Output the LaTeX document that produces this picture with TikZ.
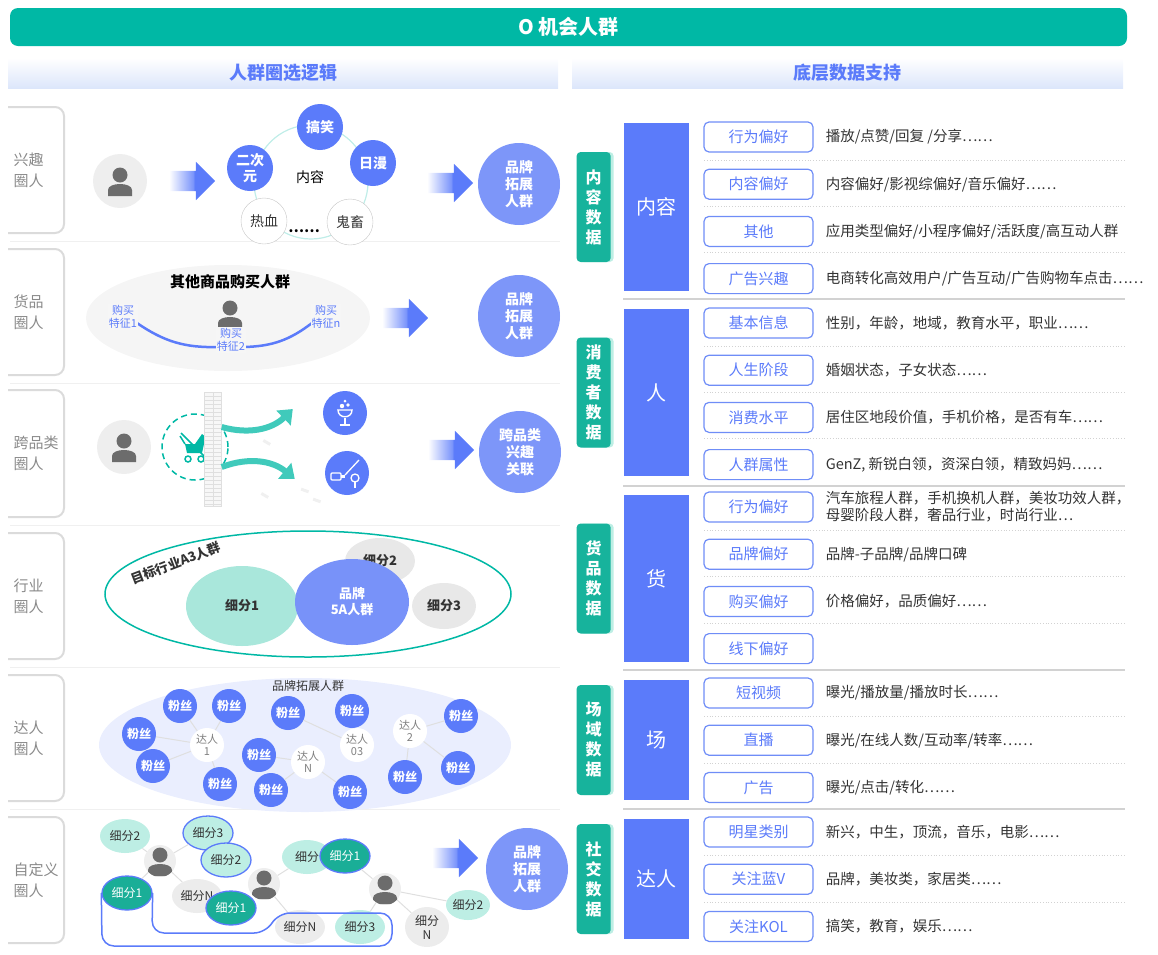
\documentclass[tikz,border=0pt]{standalone}
\usepackage{fontspec}
\setmainfont{Noto Sans CJK SC}
\usetikzlibrary{shapes.geometric, shapes.arrows, arrows.meta, positioning, shadows}

\definecolor{mainteal}{HTML}{00B8A5}
\definecolor{tagteal}{HTML}{17B39C}
\definecolor{paleteal}{HTML}{BDEEE4}
\definecolor{midteal}{HTML}{A9E7DB}
\definecolor{darkteal}{HTML}{1AAE97}
\definecolor{mainblue}{HTML}{5B7BFA}
\definecolor{softblue}{HTML}{7D96F9}
\definecolor{lineblue}{HTML}{6F8DF7}
\definecolor{bandblue}{HTML}{DCE6FB}
\definecolor{txtgray}{HTML}{8A8A8A}
\definecolor{darktxt}{HTML}{333333}

\pgfdeclarehorizontalshading{arrowfade}{100bp}{color(0bp)=(white); color(25bp)=(white); color(51bp)=(mainblue!80); color(53bp)=(mainblue); color(100bp)=(mainblue)}

\newcommand{\cdotsx}{⋯⋯}

\begin{document}
\begin{tikzpicture}[
    x=1pt, y=-1pt,
    font=\fontsize{14}{17}\selectfont,
    titlebar/.style={rectangle, rounded corners=8pt, fill=mainteal, text=white, minimum width=1117pt, minimum height=38pt, font=\fontsize{20}{24}\selectfont\bfseries},
    headband/.style={rectangle, top color=white, bottom color=bandblue, minimum height=30pt, text=mainblue, font=\fontsize{18}{22}\selectfont\bfseries},
    rowlab/.style={anchor=west, text=txtgray, align=left, font=\fontsize{15}{21}\selectfont},
    labframe/.style={draw=gray!28, line width=2pt, rounded corners=9pt},
    rowsep/.style={draw=gray!12, line width=1pt},
    person/.style={circle, inner sep=0pt, minimum size=#1pt, fill=gray!13,
        path picture={
            \begin{scope}[shift={(path picture bounding box.center)}, scale=#1/54]
                \fill[gray!85!black] (0pt,6pt) circle (7.5pt);
                \fill[gray!85!black] (-12pt,-15pt) -- (-12pt,-9pt) .. controls (-12pt,-1pt) and (12pt,-1pt) .. (12pt,-9pt) -- (12pt,-15pt) -- cycle;
            \end{scope}}},
    fatarrow/.style={single arrow, shade, shading=arrowfade, minimum height=46pt, minimum width=38pt, text height=10pt, text depth=10pt, single arrow head extend=9pt, inner sep=0pt},
    bubble/.style={circle, fill=mainblue, text=white, minimum size=46pt, inner sep=0pt, align=center, font=\fontsize{14}{16}\selectfont\bfseries},
    hollow/.style={circle, draw=gray!45, fill=white, minimum size=46pt, inner sep=0pt, text=darktxt, font=\fontsize{14}{16}\selectfont},
    result/.style={circle, fill=softblue, text=white, minimum size=82pt, inner sep=0pt, align=center, font=\fontsize{14}{17}\selectfont\bfseries},
    buytxt/.style={fill=gray!7, text=mainblue, align=center, inner sep=1pt, font=\fontsize{11}{13}\selectfont},
    buyline/.style={draw=mainblue, line width=2.5pt},
    iconc/.style={circle, fill=mainblue, minimum size=44pt, inner sep=0pt},
    tealarrow/.style={draw=mainteal!75, line width=6pt, -{Triangle[length=13pt, width=20pt]}},
    seg/.style={ellipse, inner sep=0pt, text=darktxt, align=center, font=\fontsize{13}{16}\selectfont\bfseries},
    fan/.style={circle, fill=mainblue, text=white, minimum size=34pt, inner sep=0pt, font=\fontsize{12}{14}\selectfont\bfseries},
    kol/.style={circle, fill=white, text=gray, minimum size=34pt, inner sep=0pt, align=center, font=\fontsize{11}{12}\selectfont},
    link/.style={draw=gray!25, line width=1pt},
    chip/.style={ellipse, minimum width=50pt, minimum height=34pt, inner sep=0pt, align=center, text=darktxt, font=\fontsize{12}{14}\selectfont},
    grpline/.style={draw=mainblue, line width=1.5pt},
    tag/.style={rectangle, rounded corners=4pt, fill=tagteal, text=white, minimum width=34pt, minimum height=110pt, align=center, font=\fontsize{16}{20}\selectfont\bfseries, drop shadow={shadow xshift=3pt, shadow yshift=0pt, fill=paleteal, opacity=1}},
    block/.style={rectangle, fill=mainblue, text=white, minimum width=65pt, font=\fontsize{20}{24}\selectfont},
    sub/.style={rectangle, rounded corners=5pt, draw=lineblue, line width=1.2pt, fill=white, minimum width=109pt, minimum height=30pt, text=mainblue, font=\fontsize{15}{18}\selectfont},
    desc/.style={anchor=west, text=darktxt, align=left, inner sep=0pt, font=\fontsize{14.5}{17}\selectfont},
    dotsep/.style={draw=gray!35, dotted, line width=0.8pt},
    groupsep/.style={draw=gray!35, line width=1.5pt}
]
\useasboundingbox (0,0) rectangle (1158,954);

% title and column heads
\node[titlebar] (title) at (568.5,27) {O 机会人群};
\node[headband, minimum width=550pt] (headl) at (283,73) {人群圈选逻辑};
\node[headband, minimum width=551pt] (headr) at (847.5,73) {底层数据支持};

% row frames on the left
\draw[labframe] (8,107) -- (64,107) -- (64,233) -- (8,233);
\draw[labframe] (8,249) -- (64,249) -- (64,375) -- (8,375);
\draw[labframe] (8,390) -- (64,390) -- (64,517) -- (8,517);
\draw[labframe] (8,533) -- (64,533) -- (64,659) -- (8,659);
\draw[labframe] (8,675) -- (64,675) -- (64,801) -- (8,801);
\draw[labframe] (8,817) -- (64,817) -- (64,943) -- (8,943);
\draw[rowsep] (10,241) -- (560,241);
\draw[rowsep] (10,383) -- (560,383);
\draw[rowsep] (10,525) -- (560,525);
\draw[rowsep] (10,667) -- (560,667);
\draw[rowsep] (10,809) -- (560,809);

\node[rowlab] (lab1) at (10,170) {兴趣\\圈人};
\node[rowlab] (lab2) at (10,312) {货品\\圈人};
\node[rowlab] (lab3) at (10,453) {跨品类\\圈人};
\node[rowlab] (lab4) at (10,596) {行业\\圈人};
\node[rowlab] (lab5) at (10,738) {达人\\圈人};
\node[rowlab] (lab6) at (10,880) {自定义\\圈人};

% interest crowd
\node[person=54] (u1) at (120,181) {};
\node[fatarrow] (ar1) at (187,181) {};
\draw[draw=mainteal!25, line width=1.2pt] (311,182) circle (57pt);
\node[bubble] (gx) at (320,127) {搞笑};
\node[bubble] (ecy) at (250,168) {二次\\元};
\node[bubble] (rm) at (373,163) {日漫};
\node[hollow] (rx) at (264,221) {热血};
\node[hollow] (gc) at (350,222) {鬼畜};
\node (nr) at (310,177) {内容};
\node[font=\fontsize{14}{17}\selectfont\bfseries] (more) at (304,231) {……};
\node[fatarrow] (ar2) at (445,183) {};
\node[result] (res1) at (519,184) {品牌\\拓展\\人群};

% goods crowd
\node[ellipse, fill=gray!8, minimum width=284pt, minimum height=106pt] (pool) at (228,318) {};
\node[font=\fontsize{15}{18}\selectfont\bfseries] (pooltxt) at (230,282) {其他商品购买人群};
\node[person=54, fill=none] (u2) at (230,314) {};
\draw[buyline] (137,323) to[bend right=18] (218,347);
\draw[buyline] (244,347) to[bend right=18] (312,323);
\node[buytxt] (f1) at (123,317) {购买\\特征1};
\node[buytxt] (f2) at (231,340) {购买\\特征2};
\node[buytxt] (fn) at (326,317) {购买\\特征n};
\node[fatarrow] (ar3) at (400,318) {};
\node[result] (res2) at (519,316) {品牌\\拓展\\人群};

% cross-category crowd
\node[person=54] (u3) at (124,447) {};
\node[circle, draw=mainteal, dashed, dash pattern=on 6pt off 4pt, line width=1.5pt, minimum size=66pt] (cart) at (195,447) {};
\begin{scope}[shift={(cart.center)}, mainteal]
    \fill (-10,-3) -- (9,-3) -- (7,6) -- (-8,6) -- cycle;
    \fill (0,-3) -- (7,-13) .. controls (13,-10) and (12,-5) .. (9,-3) -- cycle;
    \draw[line width=1.5pt] (-10,-3) -- (-15,-11);
    \draw[line width=1.5pt] (-7,12) circle (3pt) (6,12) circle (3pt);
    \draw[line width=1.5pt] (-14,-14) -- (12,12);
\end{scope}
\node[rectangle, fill=gray!6, draw=gray!25, minimum width=17pt, minimum height=114pt, inner sep=0pt,
    path picture={\foreach \k in {4,8,...,112} \draw[gray!25] ([yshift=-\k pt]path picture bounding box.north west) -- ++(17pt,0pt);
                  \draw[gray!25] (path picture bounding box.north) -- (path picture bounding box.south);}] (wall) at (213,449) {};
\fill[gray!12, rotate around={-30:(267,442)}] (263,441) rectangle (271,444);
\fill[gray!12, rotate around={-30:(265,495)}] (261,494) rectangle (269,497);
\fill[gray!12, rotate around={-20:(305,490)}] (301,489) rectangle (309,492);
\fill[gray!12, rotate around={-20:(317,500)}] (313,499) rectangle (321,502);
\node[iconc] (ic1) at (345,413) {};
\node[iconc] (ic2) at (347,473) {};
\draw[tealarrow] ([yshift=22pt]wall.east) to[bend right=30] ([xshift=-30pt,yshift=4pt]ic1.west);
\draw[tealarrow] ([yshift=-18pt]wall.east) to[bend left=30] ([xshift=-30pt,yshift=-6pt]ic2.west);
\begin{scope}[shift={(ic1.center)}, white, line width=1.4pt]
    \draw (-7,-3) .. controls (-7,6) and (7,6) .. (7,-3) -- cycle;
    \draw (0,5) -- (0,12) (-5,12) -- (5,12);
    \fill (-3,-7) circle (2.2pt) (3,-8) circle (1.8pt) (0,-12) circle (1.5pt);
\end{scope}
\begin{scope}[shift={(ic2.center)}, white, line width=1.3pt]
    \draw[rounded corners=1pt] (-16,0) rectangle (-6,7);
    \fill (-6,2) rectangle (-2,5);
    \draw (-2,2) -- (12,-13);
    \draw (8,5) circle (4pt);
    \draw (8,9) -- (8,15);
\end{scope}
\node[fatarrow] (ar4) at (446,450) {};
\node[result] (res3) at (520,452) {跨品类\\兴趣\\关联};

% industry crowd
\node[ellipse, draw=mainteal, line width=1.5pt, minimum width=406pt, minimum height=126pt] (a3pool) at (308,594) {};
\node[seg, fill=gray!18, minimum width=70pt, minimum height=46pt] (sg2) at (380,561) {细分2};
\node[seg, fill=gray!18, minimum width=64pt, minimum height=46pt] (sg3) at (444,606) {细分3};
\node[seg, fill=midteal, minimum width=112pt, minimum height=80pt] (sg1) at (242,606) {细分1};
\node[seg, fill=softblue!85!mainblue, text=white, minimum width=114pt, minimum height=86pt] (b5a) at (352,602) {品牌\\5A人群};
\node[rotate=21, inner sep=0pt, font=\fontsize{13}{16}\selectfont\bfseries, text=darktxt] (a3txt) at (176,563) {目标行业A3人群};

% influencer crowd
\node[ellipse, fill=mainblue!13, minimum width=412pt, minimum height=134pt] (fanpool) at (305,745) {};
\node[font=\fontsize{12}{14}\selectfont, text=darktxt] (fantxt) at (308,686) {品牌拓展人群};
\node[fan] (fa1) at (180,706) {粉丝};
\node[fan] (fa2) at (229,706) {粉丝};
\node[fan] (fa3) at (288,713) {粉丝};
\node[fan] (fa4) at (352,711) {粉丝};
\node[fan] (fa5) at (461,716) {粉丝};
\node[fan] (fa6) at (139,734) {粉丝};
\node[fan] (fa7) at (153,766) {粉丝};
\node[fan] (fa8) at (259,755) {粉丝};
\node[fan] (fa9) at (220,784) {粉丝};
\node[fan] (fa10) at (271,790) {粉丝};
\node[fan] (fa11) at (350,792) {粉丝};
\node[fan] (fa12) at (405,777) {粉丝};
\node[fan] (fa13) at (458,768) {粉丝};
\node[kol] (k1) at (207,745) {达人\\1};
\node[kol] (kn) at (308,762) {达人\\N};
\node[kol] (k03) at (357,745) {达人\\03};
\node[kol] (k2) at (410,731) {达人\\2};
\draw[link] (k1) -- (fa1);
\draw[link] (k1) -- (fa2);
\draw[link] (k1) -- (fa6);
\draw[link] (k1) -- (fa7);
\draw[link] (k1) -- (fa9);
\draw[link] (kn) -- (fa8);
\draw[link] (kn) -- (fa10);
\draw[link] (kn) -- (fa11);
\draw[link] (k03) -- (fa3);
\draw[link] (k03) -- (fa4);
\draw[link] (k2) -- (fa5);
\draw[link] (k2) -- (fa12);
\draw[link] (k2) -- (fa13);

% custom crowd
\node[person=32] (p1) at (160,861) {};
\node[person=32] (p2) at (264,884) {};
\node[person=32] (p3) at (385,889) {};
\node[chip, fill=paleteal] (c2a) at (125,836) {细分2};
\node[chip, fill=paleteal, draw=mainblue, line width=1.3pt] (c3a) at (208,833) {细分3};
\node[chip, fill=paleteal, draw=mainblue, line width=1.3pt] (c2b) at (226,860) {细分2};
\node[chip, fill=darkteal, text=white, draw=mainblue, line width=1.3pt] (c1a) at (127,893) {细分1};
\node[chip, fill=gray!15] (cna) at (197,896) {细分N};
\node[chip, fill=darkteal, text=white, draw=mainblue, line width=1.3pt] (c1b) at (231,908) {细分1};
\node[chip, fill=paleteal] (cx) at (307,857) {细分};
\node[chip, fill=darkteal, text=white, draw=mainblue, line width=1.3pt] (c1c) at (345,856) {细分1};
\node[chip, fill=gray!15] (cnb) at (300,927) {细分N};
\node[chip, fill=paleteal] (c3b) at (360,927) {细分3};
\node[chip, fill=gray!15, minimum width=44pt, minimum height=40pt] (cnc) at (427,927) {细分\\N};
\node[chip, fill=paleteal, minimum width=44pt, minimum height=30pt] (c2c) at (468,905) {细分2};
\draw[link] (p1) -- (c2a);
\draw[link] (p1) -- (c3a);
\draw[link] (p1) -- (c1a);
\draw[link] (p1) -- (cna);
\draw[link] (p2) -- (cx);
\draw[link] (p2) -- (cnb);
\draw[link] (p3) -- (c1c);
\draw[link] (p3) -- (c3b);
\draw[link] (p3) -- (c2c);
\draw[link] (p3) -- (cnc);
\draw[grpline, rounded corners=12pt] (c1a.west) -- (102,946) -- (392,946) -- (392,913) -- (278,913) -- (266,933) -- (152,933) -- (c1a.east);
\node[fatarrow] (ar5) at (450,858) {};
\node[result] (res6) at (527,869) {品牌\\拓展\\人群};

% content data
\node[block, minimum height=168pt] (bk1) at (656.5,207) {内容};
\node[tag, left=13pt of bk1] (tg1) {内\\容\\数\\据};
\node[sub] (s11) at (758.5,137) {行为偏好};
\node[sub, below=16pt of s11] (s12) {内容偏好};
\node[sub, below=16pt of s12] (s13) {其他};
\node[sub, below=16pt of s13] (s14) {广告兴趣};
\node[desc, right=12pt of s11] (d11) {播放/点赞/回复 /分享\cdotsx};
\node[desc, right=12pt of s12] (d12) {内容偏好/影视综偏好/音乐偏好\cdotsx};
\node[desc, right=12pt of s13] (d13) {应用类型偏好/小程序偏好/活跃度/高互动人群};
\node[desc, right=12pt of s14] (d14) {电商转化高效用户/广告互动/广告购物车点击\cdotsx};
\draw[dotsep] (704,160) -- (1125,160);
\draw[dotsep] (704,206) -- (1125,206);
\draw[dotsep] (704,252) -- (1125,252);
\draw[groupsep] (623,299) -- (1125,299);

% consumer data
\node[block, minimum height=167pt] (bk2) at (656.5,392.5) {人};
\node[tag, left=13pt of bk2] (tg2) {消\\费\\者\\数\\据};
\node[sub] (s21) at (758.5,323) {基本信息};
\node[sub, below=16pt of s21] (s22) {人生阶段};
\node[sub, below=16pt of s22] (s23) {消费水平};
\node[sub, below=16pt of s23] (s24) {人群属性};
\node[desc, right=12pt of s21] (d21) {性别，年龄，地域，教育水平，职业\cdotsx};
\node[desc, right=12pt of s22] (d22) {婚姻状态，子女状态\cdotsx};
\node[desc, right=12pt of s23] (d23) {居住区地段价值，手机价格，是否有车\cdotsx};
\node[desc, right=12pt of s24] (d24) {GenZ, 新锐白领，资深白领，精致妈妈\cdotsx};
\draw[dotsep] (704,346) -- (1125,346);
\draw[dotsep] (704,392) -- (1125,392);
\draw[dotsep] (704,438) -- (1125,438);
\draw[groupsep] (623,486) -- (1125,486);

% goods data
\node[block, minimum height=167pt] (bk3) at (656.5,578.5) {货};
\node[tag, left=13pt of bk3] (tg3) {货\\品\\数\\据};
\node[sub] (s31) at (758.5,507) {行为偏好};
\node[sub, below=16pt of s31] (s32) {品牌偏好};
\node[sub, below=16pt of s32] (s33) {购买偏好};
\node[sub, below=16pt of s33] (s34) {线下偏好};
\node[desc, right=12pt of s31] (d31) {汽车旅程人群，手机换机人群，美妆功效人群，\\母婴阶段人群，奢品行业，时尚行业⋯};
\node[desc, right=12pt of s32] (d32) {品牌-子品牌/品牌口碑};
\node[desc, right=12pt of s33] (d33) {价格偏好，品质偏好\cdotsx};
\draw[dotsep] (704,530) -- (1125,530);
\draw[dotsep] (704,576) -- (1125,576);
\draw[dotsep] (704,623) -- (1125,623);
\draw[groupsep] (623,670) -- (1125,670);

% channel data
\node[block, minimum height=120pt] (bk4) at (656.5,740) {场};
\node[tag, left=13pt of bk4] (tg4) {场\\域\\数\\据};
\node[sub] (s41) at (758.5,693) {短视频};
\node[sub, below=16pt of s41] (s42) {直播};
\node[sub, below=16pt of s42] (s43) {广告};
\node[desc, right=12pt of s41] (d41) {曝光/播放量/播放时长\cdotsx};
\node[desc, right=12pt of s42] (d42) {曝光/在线人数/互动率/转率\cdotsx};
\node[desc, right=12pt of s43] (d43) {曝光/点击/转化\cdotsx};
\draw[dotsep] (704,716) -- (1125,716);
\draw[dotsep] (704,763) -- (1125,763);
\draw[groupsep] (623,809) -- (1125,809);

% social data
\node[block, minimum height=120pt] (bk5) at (656.5,879) {达人};
\node[tag, left=13pt of bk5] (tg5) {社\\交\\数\\据};
\node[sub] (s51) at (758.5,832) {明星类别};
\node[sub, below=16pt of s51] (s52) {关注蓝V};
\node[sub, below=16pt of s52] (s53) {关注KOL};
\node[desc, right=12pt of s51] (d51) {新兴，中生，顶流，音乐，电影\cdotsx};
\node[desc, right=12pt of s52] (d52) {品牌，美妆类，家居类\cdotsx};
\node[desc, right=12pt of s53] (d53) {搞笑，教育，娱乐\cdotsx};
\draw[dotsep] (704,855) -- (1125,855);
\draw[dotsep] (704,902) -- (1125,902);

\end{tikzpicture}
\end{document}
